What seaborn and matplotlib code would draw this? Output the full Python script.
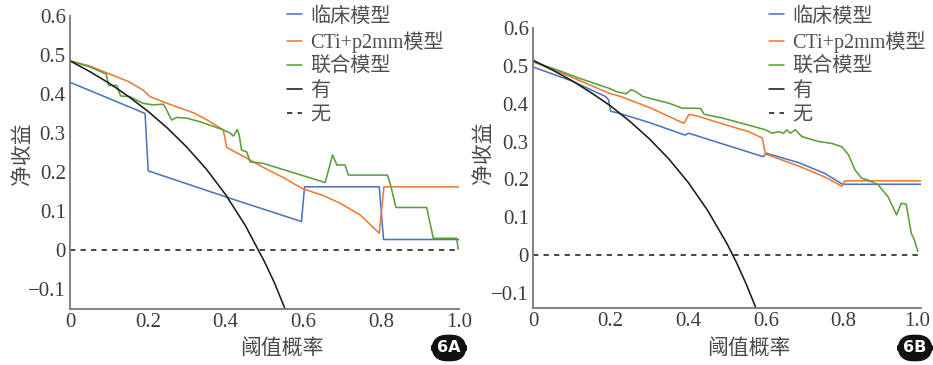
import matplotlib
matplotlib.use("Agg")
import matplotlib.pyplot as plt
import matplotlib.transforms as mtransforms
import seaborn as sns
import pandas as pd

# ---------------- data ----------------
labels = ["临床模型", "CTi+p2mm模型", "联合模型", "有", "无"]
xticks = [0, 0.2, 0.4, 0.6, 0.8, 1.0]
xticklabels = ["0", "0.2", "0.4", "0.6", "0.8", "1.0"]
yticks = [-0.1, 0, 0.1, 0.2, 0.3, 0.4, 0.5, 0.6]
yticklabels = ["\u22120.1", "0", "0.1", "0.2", "0.3", "0.4", "0.5", "0.6"]

# Panel 6A
A_clin_x = [0, 0.193, 0.201, 0.41, 0.595, 0.603, 0.795, 0.806, 1.0]
A_clin_y = [0.43, 0.35, 0.203, 0.133, 0.073, 0.162, 0.162, 0.027, 0.027]
A_cti_x = [0, 0.05, 0.1, 0.15, 0.188, 0.206, 0.25, 0.317, 0.35, 0.394, 0.403,
           0.45, 0.5, 0.55, 0.596, 0.65, 0.694, 0.746, 0.795, 0.807, 1.0]
A_cti_y = [0.485, 0.472, 0.452, 0.432, 0.41, 0.393, 0.376, 0.352, 0.335, 0.308, 0.263,
           0.238, 0.21, 0.185, 0.158, 0.14, 0.12, 0.09, 0.043, 0.162, 0.162]
A_comb_x = [0, 0.05, 0.093, 0.099, 0.12, 0.13, 0.154, 0.188, 0.214, 0.24, 0.248, 0.261,
            0.274, 0.3, 0.334, 0.394, 0.411, 0.42, 0.43, 0.435, 0.441, 0.454, 0.463,
            0.497, 0.656, 0.675, 0.686, 0.707, 0.716, 0.816, 0.824, 0.838, 0.917, 0.934,
            0.994, 0.998]
A_comb_y = [0.485, 0.47, 0.451, 0.422, 0.422, 0.395, 0.393, 0.376, 0.372, 0.374, 0.36, 0.333,
            0.34, 0.338, 0.329, 0.308, 0.30, 0.292, 0.309, 0.295, 0.256, 0.252, 0.226,
            0.222, 0.173, 0.244, 0.218, 0.218, 0.192, 0.192, 0.167, 0.109, 0.109, 0.03,
            0.03, 0.002]
A_all_x = [0, 0.05, 0.1, 0.15, 0.2, 0.25, 0.3, 0.35, 0.4, 0.45, 0.5, 0.525, 0.55, 0.56]
A_all_y = [0.485, 0.458, 0.428, 0.394, 0.356, 0.313, 0.264, 0.208, 0.142, 0.064, -0.03,
           -0.083, -0.144, -0.17]
A_none_x = [0, 1.0]
A_none_y = [0, 0]

# Panel 6B
B_clin_x = [0, 0.1, 0.187, 0.195, 0.2, 0.221, 0.3, 0.392, 0.401, 0.5, 0.593, 0.602,
            0.685, 0.751, 0.798, 1.0]
B_clin_y = [0.497, 0.46, 0.419, 0.41, 0.38, 0.375, 0.35, 0.317, 0.322, 0.29, 0.26, 0.269,
            0.244, 0.216, 0.187, 0.187]
B_cti_x = [0, 0.1, 0.195, 0.223, 0.3, 0.389, 0.402, 0.428, 0.5, 0.556, 0.591, 0.599,
           0.685, 0.75, 0.796, 0.804, 1.0]
B_cti_y = [0.511, 0.47, 0.428, 0.42, 0.39, 0.348, 0.372, 0.366, 0.343, 0.326, 0.309, 0.267,
           0.235, 0.207, 0.182, 0.196, 0.196]
B_comb_x = [0, 0.06, 0.12, 0.195, 0.215, 0.24, 0.253, 0.265, 0.283, 0.351, 0.385, 0.419,
            0.432, 0.441, 0.488, 0.539, 0.599, 0.616, 0.633, 0.646, 0.654, 0.663, 0.676,
            0.693, 0.736, 0.77, 0.796, 0.813, 0.83, 0.847, 0.864, 0.89, 0.915, 0.937,
            0.949, 0.962, 0.975, 0.983, 0.992]
B_comb_y = [0.511, 0.49, 0.467, 0.441, 0.432, 0.426, 0.437, 0.432, 0.419, 0.401, 0.388, 0.388,
            0.387, 0.372, 0.362, 0.348, 0.331, 0.322, 0.326, 0.322, 0.331, 0.322, 0.331,
            0.313, 0.300, 0.295, 0.286, 0.265, 0.225, 0.203, 0.198, 0.185, 0.154, 0.106,
            0.137, 0.134, 0.057, 0.04, 0.009]
B_all_x = [0, 0.05, 0.1, 0.15, 0.2, 0.25, 0.3, 0.35, 0.4, 0.45, 0.5, 0.525, 0.55, 0.575, 0.585]
B_all_y = [0.515, 0.489, 0.461, 0.429, 0.394, 0.353, 0.307, 0.254, 0.192, 0.118, 0.03,
           -0.021, -0.078, -0.141, -0.17]
B_none_x = [0, 1.0]
B_none_y = [0, 0]

colors = ["#4a76c0", "#ee7b35", "#5b9f3c", "#1c1c1c", "#1c1c1c"]

# ---------------- style ----------------
sns.set_style("white")
plt.rcParams["font.family"] = ["Liberation Serif", "Noto Sans CJK SC", "DejaVu Sans"]
plt.rcParams["axes.unicode_minus"] = True

fig = plt.figure(figsize=(9.33, 3.65), dpi=100)
W, H = 933, 365


def make_axes(left, right, top, bottom):
    return fig.add_axes([left / W, 1 - bottom / H, (right - left) / W, (bottom - top) / H])


axA = make_axes(70, 459, 16, 308.5)
axB = make_axes(533, 921, 28, 308)

panels = [
    (axA, [(A_clin_x, A_clin_y), (A_cti_x, A_cti_y), (A_comb_x, A_comb_y),
           (A_all_x, A_all_y), (A_none_x, A_none_y)], (-0.15, 0.6),
     287, (0.545, -0.138), (-0.12, 0.528), "6A", 449),
    (axB, [(B_clin_x, B_clin_y), (B_cti_x, B_cti_y), (B_comb_x, B_comb_y),
           (B_all_x, B_all_y), (B_none_x, B_none_y)], (-0.14, 0.6),
     769, (0.557, -0.146), (-0.125, 0.554), "6B", 915),
]

tick_color = "#3c3c3c"
spine_color = "#7a7a7a"

for ax, series, ylim, leg_x, xl, yl, tag, tag_x in panels:
    for i, ((xs, ys), lab) in enumerate(zip(series, labels)):
        df = pd.DataFrame({"x": xs, "y": ys})
        ls = (0, (3.3, 3.3)) if lab == "无" else "-"
        sns.lineplot(data=df, x="x", y="y", ax=ax, sort=False, estimator=None,
                     color=colors[i], linewidth=1.15, linestyle=ls, label=lab)
    ax.set_xlim(0, 1.0)
    ax.set_ylim(*ylim)
    ax.set_xticks(xticks)
    ax.set_xticklabels(xticklabels)
    ax.set_yticks(yticks)
    ax.set_yticklabels(yticklabels)
    ax.tick_params(direction="in", length=4, width=1.0, colors=spine_color,
                   labelcolor=tick_color, labelsize=15, pad=3)
    for s in ["top", "right"]:
        ax.spines[s].set_visible(False)
    for s in ["left", "bottom"]:
        ax.spines[s].set_color(spine_color)
        ax.spines[s].set_linewidth(1.3)
    ax.set_xlabel("阈值概率", fontsize=15, color="#4a4a4a", va="center")
    ax.xaxis.set_label_coords(*xl)
    ax.set_ylabel("净收益", fontsize=15, color="#4a4a4a", va="center")
    ax.yaxis.set_label_coords(*yl)
    leg = ax.legend(loc="upper left", bbox_to_anchor=(leg_x / W, 1 - 7 / H),
                    bbox_transform=fig.transFigure, frameon=False, borderpad=0,
                    borderaxespad=0, handlelength=0.75, handletextpad=0.4,
                    labelspacing=0.24, fontsize=14.5)
    for t in leg.get_texts():
        t.set_color("#505050")
    fig.text(tag_x / W, 1 - 348 / H, tag, ha="center", va="center", color="white",
             fontsize=11.5, fontweight="bold", family="DejaVu Sans",
             bbox=dict(boxstyle="round,pad=0.32,rounding_size=0.95", fc="#111111", ec="#111111"))

# keep the right-most tick label of panel B inside the canvas
lastB = axB.get_xticklabels()[-1]
lastB.set_transform(lastB.get_transform() +
                    mtransforms.ScaledTranslation(-4 / 100, 0, fig.dpi_scale_trans))

fig.savefig("out.png", dpi=100)
